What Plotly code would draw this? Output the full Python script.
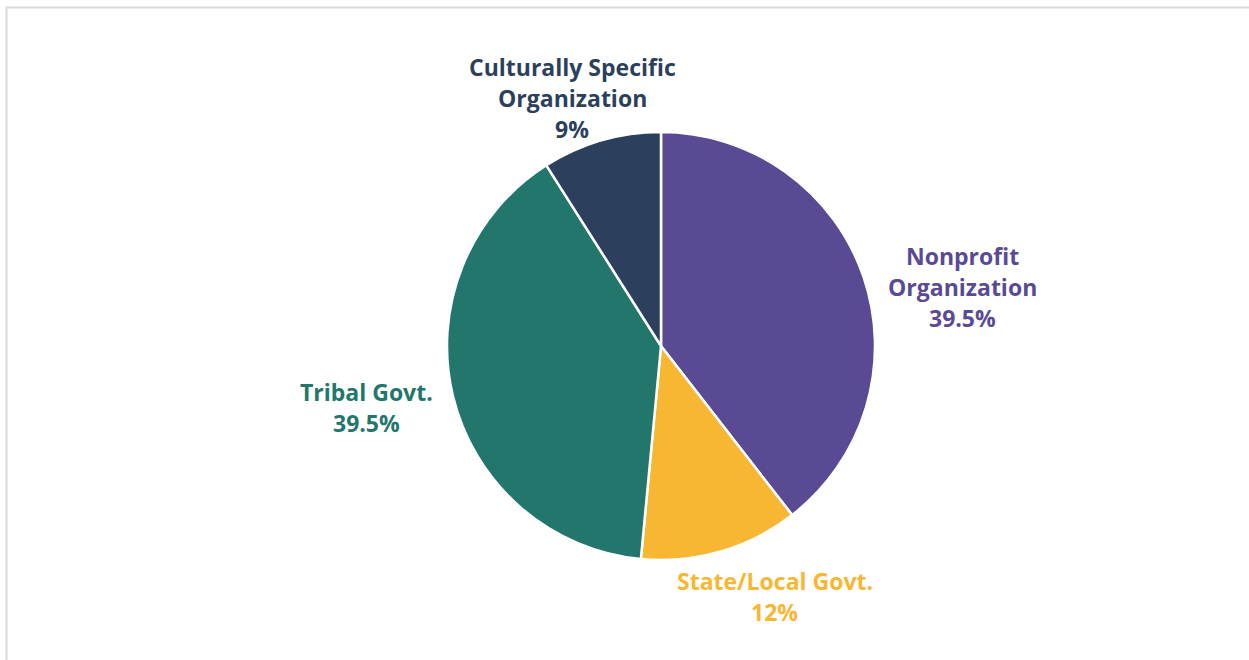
import plotly.graph_objects as go

categories = ["Nonprofit Organization", "State/Local Govt.", "Tribal Govt.", "Culturally Specific Organization"]
values = [39.5, 12, 39.5, 9]
pct_labels = ["39.5%", "12%", "39.5%", "9%"]
label_lines = [["Nonprofit", "Organization"], ["State/Local Govt."], ["Tribal Govt."], ["Culturally Specific", "Organization"]]
colors = ["#5A4A93", "#F7B733", "#22766B", "#2C3F5C"]

W, H = 1249, 660
# label block centers (pixels) for first line
label_pos = [(962, 256), (775, 581), (366, 392), (572, 67)]
line_gap = 31

fig = go.Figure()
fig.add_trace(go.Pie(
    labels=categories, values=values, sort=False, direction="clockwise", rotation=0,
    marker=dict(colors=colors, line=dict(color="white", width=2.5)),
    textinfo="none", hoverinfo="label+percent", showlegend=False,
    domain=dict(x=[447 / W, 875 / W], y=[1 - 560 / H, 1 - 132 / H]),
))

annotations = []
for lines, pct, col, (cx, cy) in zip(label_lines, pct_labels, colors, label_pos):
    for i, t in enumerate(lines + [pct]):
        annotations.append(dict(
            x=cx / W, y=1 - (cy + i * line_gap) / H, xref="paper", yref="paper",
            text="<b>" + t + "</b>", showarrow=False, xanchor="center", yanchor="middle",
            font=dict(family="Open Sans", size=23, color=col),
        ))

fig.update_layout(
    width=W, height=H, margin=dict(l=0, r=0, t=0, b=0),
    paper_bgcolor="white", plot_bgcolor="white",
    annotations=annotations,
    shapes=[dict(type="rect", xref="paper", yref="paper",
                 x0=6.5 / W, x1=1.02, y0=-0.05, y1=1 - 7.5 / H,
                 line=dict(color="#DADADA", width=2), fillcolor="rgba(0,0,0,0)")],
)
fig.write_html("out.html")
